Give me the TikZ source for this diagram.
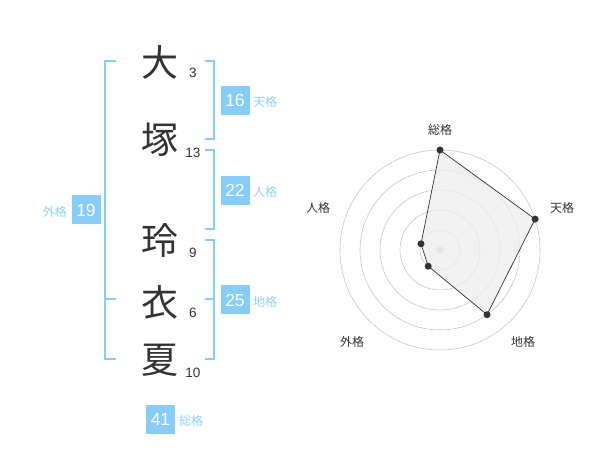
\documentclass[tikz,border=0pt]{standalone}
\usepackage{fontspec}
\usetikzlibrary{calc}
\setmainfont{Liberation Sans}
\newfontfamily\jp{Noto Sans CJK JP}
\definecolor{kblue}{HTML}{86CDF9}
\definecolor{klabel}{HTML}{8FD0F7}
\definecolor{kdark}{HTML}{333333}
\begin{document}
\begin{tikzpicture}[x=1pt,y=-1pt,
  kanji/.style={font=\jp\fontsize{37}{37}\selectfont, text=kdark, inner sep=0pt},
  stroke/.style={font=\fontsize{13.5}{14}\selectfont, text=kdark, inner sep=0pt},
  br/.style={draw=kblue, line width=1.8pt},
  numbox/.style={fill=kblue, text=white, minimum width=29pt, minimum height=29pt, inner sep=0pt, font=\fontsize{17.5}{18}\selectfont},
  klab/.style={font=\jp\fontsize{12}{12}\selectfont, text=klabel, inner sep=0pt},
  ring/.style={draw=black!22, line width=0.6pt},
  rlab/.style={font=\jp\fontsize{12}{12}\selectfont, text=kdark, inner sep=0pt},
  dot/.style={circle, fill=kdark, inner sep=0pt, minimum size=7pt}
]
\useasboundingbox (0,0) rectangle (600,470);
% kanji
\node[kanji] (k1) at (160,62) {大};
\node[kanji] (k2) at (160,140) {塚};
\node[kanji] (k3) at (160,240) {玲};
\node[kanji] (k4) at (160,302) {衣};
\node[kanji] (k5) at (160,360) {夏};
\node[stroke] (s1) at (193,73) {3};
\node[stroke] (s2) at (193,153) {13};
\node[stroke] (s3) at (193,253) {9};
\node[stroke] (s4) at (193,313) {6};
\node[stroke] (s5) at (193,373) {10};
% outer bracket
\draw[br] (116,61) -- (105,61) -- (105,359) -- (116,359);
\draw[br] (105,299) -- (116,299);
% right brackets
\draw[br] (205,61) -- (214,61) -- (214,139) -- (205,139);
\draw[br] (205,150) -- (214,150) -- (214,229) -- (205,229);
\draw[br] (205,240) -- (214,240) -- (214,359) -- (205,359);
\draw[br] (205,299) -- (214,299);
% boxes
\node[numbox] (b16) at (235,100.5) {16};
\node[klab, anchor=west] (l16) at (253,102) {天格};
\node[numbox] (b22) at (235,190.5) {22};
\node[klab, anchor=west] (l22) at (253,192) {人格};
\node[numbox] (b25) at (235,300) {25};
\node[klab, anchor=west] (l25) at (253,302) {地格};
\node[numbox] (b19) at (86,210) {19};
\node[klab, anchor=east] (l19) at (67,212) {外格};
\node[numbox] (b41) at (160.5,419) {41};
\node[klab, anchor=west] (l41) at (179,421) {総格};
% radar
\coordinate (c) at (440,250);
\foreach \r in {20,40,60,80,100} \draw[ring] (c) circle (\r);
\fill[black!22] (c) circle (3.5);
\coordinate (pA) at ($(c)+(0,-100)$);
\coordinate (pB) at ($(c)+(95.1,-30.9)$);
\coordinate (pC) at ($(c)+(47.0,64.7)$);
\coordinate (pD) at ($(c)+(-11.8,16.2)$);
\coordinate (pE) at ($(c)+(-19.0,-6.2)$);
\fill[black!7, fill opacity=0.8] (pA) -- (pB) -- (pC) -- (pD) -- (pE) -- cycle;
\draw[kdark, line width=0.7pt] (pA) -- (pB) -- (pC) -- (pD) -- (pE) -- cycle;
\foreach \p in {pA,pB,pC,pD,pE} \node[dot] at (\p) {};
\node[rlab] (rA) at (440,130) {総格};
\node[rlab] (rB) at (562,208) {天格};
\node[rlab] (rC) at (523,342) {地格};
\node[rlab] (rD) at (352,342) {外格};
\node[rlab] (rE) at (318,208) {人格};
\end{tikzpicture}
\end{document}
